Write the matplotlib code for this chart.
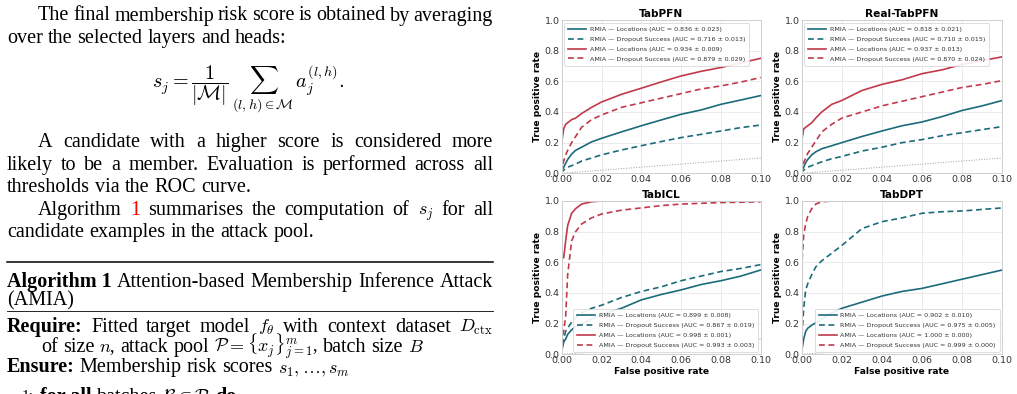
import matplotlib
matplotlib.use("Agg")
import matplotlib.pyplot as plt
from matplotlib.lines import Line2D

# ---------------------------------------------------------------------------
# ROC data (FPR range 0 - 0.1)
# ---------------------------------------------------------------------------
FPR = [0, 0, 0.001, 0.002, 0.003, 0.005, 0.007, 0.01, 0.015, 0.02,
       0.03, 0.04, 0.05, 0.06, 0.07, 0.08, 0.09, 0.1]

panels = ["TabPFN", "Real-TabPFN", "TabICL", "TabDPT"]

tabpfn_rmia_loc = [0, 0.02, 0.04, 0.065, 0.09, 0.125, 0.15, 0.17, 0.205, 0.228,
                   0.27, 0.31, 0.348, 0.385, 0.413, 0.45, 0.478, 0.507]
tabpfn_rmia_drop = [0, 0.01, 0.02, 0.033, 0.04, 0.05, 0.06, 0.08, 0.1, 0.12,
                    0.152, 0.18, 0.207, 0.233, 0.254, 0.276, 0.298, 0.315]
tabpfn_amia_loc = [0, 0.2, 0.29, 0.32, 0.33, 0.35, 0.36, 0.39, 0.43, 0.465,
                   0.515, 0.555, 0.596, 0.635, 0.665, 0.69, 0.72, 0.75]
tabpfn_amia_drop = [0, 0.03, 0.08, 0.12, 0.15, 0.2, 0.24, 0.3, 0.35, 0.38,
                    0.43, 0.46, 0.49, 0.52, 0.55, 0.57, 0.595, 0.625]

real_rmia_loc = [0, 0.02, 0.04, 0.07, 0.09, 0.12, 0.14, 0.16, 0.18, 0.2,
                 0.24, 0.276, 0.31, 0.335, 0.37, 0.41, 0.44, 0.475]
real_rmia_drop = [0, 0.01, 0.02, 0.03, 0.04, 0.05, 0.06, 0.075, 0.095, 0.11,
                  0.145, 0.17, 0.2, 0.22, 0.245, 0.265, 0.285, 0.305]
real_amia_loc = [0, 0.21, 0.29, 0.3, 0.31, 0.33, 0.36, 0.40, 0.45, 0.475,
                 0.54, 0.58, 0.61, 0.65, 0.675, 0.71, 0.735, 0.76]
real_amia_drop = [0, 0.03, 0.07, 0.1, 0.13, 0.17, 0.21, 0.27, 0.32, 0.36,
                  0.4, 0.44, 0.47, 0.5, 0.53, 0.56, 0.58, 0.605]

tabicl_rmia_loc = [0, 0.02, 0.08, 0.1, 0.13, 0.16, 0.18, 0.2, 0.23, 0.26,
                   0.3, 0.355, 0.39, 0.42, 0.455, 0.48, 0.51, 0.55]
tabicl_rmia_drop = [0, 0.05, 0.1, 0.15, 0.17, 0.21, 0.24, 0.27, 0.3, 0.32,
                    0.37, 0.41, 0.44, 0.48, 0.51, 0.54, 0.56, 0.585]
tabicl_amia_loc = [0, 0.63, 0.63, 0.74, 0.84, 0.92, 0.95, 0.98, 0.995, 1.0,
                   1.0, 1.0, 1.0, 1.0, 1.0, 1.0, 1.0, 1.0]
tabicl_amia_drop = [0, 0.1, 0.15, 0.25, 0.52, 0.74, 0.8, 0.85, 0.89, 0.915,
                    0.94, 0.955, 0.97, 0.98, 0.985, 0.99, 0.992, 0.995]

tabdpt_rmia_loc = [0, 0.02, 0.1, 0.15, 0.17, 0.19, 0.205, 0.23, 0.27, 0.3,
                   0.34, 0.38, 0.41, 0.43, 0.46, 0.49, 0.52, 0.55]
tabdpt_rmia_drop = [0, 0.1, 0.3, 0.42, 0.46, 0.52, 0.57, 0.61, 0.66, 0.71,
                    0.82, 0.865, 0.89, 0.92, 0.93, 0.935, 0.945, 0.955]
tabdpt_amia_loc = [0, 1.0, 1.0, 1.0, 1.0, 1.0, 1.0, 1.0, 1.0, 1.0,
                   1.0, 1.0, 1.0, 1.0, 1.0, 1.0, 1.0, 1.0]
tabdpt_amia_drop = [0, 0.57, 0.78, 0.85, 0.9, 0.95, 0.98, 0.995, 1.0, 1.0,
                    1.0, 1.0, 1.0, 1.0, 1.0, 1.0, 1.0, 1.0]

auc_tabpfn = ["0.836 ± 0.023", "0.716 ± 0.013", "0.934 ± 0.009", "0.879 ± 0.029"]
auc_real = ["0.818 ± 0.021", "0.710 ± 0.015", "0.937 ± 0.013", "0.870 ± 0.024"]
auc_tabicl = ["0.899 ± 0.008", "0.867 ± 0.019", "0.998 ± 0.001", "0.993 ± 0.003"]
auc_tabdpt = ["0.902 ± 0.010", "0.975 ± 0.005", "1.000 ± 0.000", "0.999 ± 0.000"]

series_names = ["RMIA — Locations", "RMIA — Dropout Success",
                "AMIA — Locations", "AMIA — Dropout Success"]

TEAL = "#1b6b7b"
RED = "#c1394b"

plt.rcParams["mathtext.fontset"] = "cm"
plt.rcParams["font.family"] = ["DejaVu Sans"]

W, H = 1017, 394
fig = plt.figure(figsize=(W / 100, H / 100), dpi=100)
renderer = fig.canvas.get_renderer()


# ---------------------------------------------------------------------------
# Left column: paper text
# ---------------------------------------------------------------------------
TXT = 14.5
SERIF = "Liberation Serif"


def put_line(words, yb, x0, x1=None, size=TXT):
    """Place words on a baseline (pixel coords), justified if x1 is given."""
    arts = []
    for w in words:
        if isinstance(w, str):
            w = (w, "normal", "black")
        txt, wt, col = w
        sz = size * 0.9 if txt.startswith("$") else size
        arts.append(fig.text(0, 1 - yb / H, txt, fontsize=sz, family=SERIF,
                             weight=wt, color=col, va="baseline", ha="left"))
    widths = [a.get_window_extent(renderer).width for a in arts]
    if x1 is not None and len(arts) > 1:
        gap = (x1 - x0 - sum(widths)) / (len(arts) - 1)
    else:
        gap = size * 100 / 72 * 0.25
    x = x0
    for a, wd in zip(arts, widths):
        a.set_x(x / W)
        x += wd + gap


LEFT, RIGHT, INDENT = 7, 493, 38

put_line("The final membership risk score is obtained by averaging".split(),
         20.5, INDENT, RIGHT)
put_line("over the selected layers and heads:".split(), 43, LEFT)
fig.text(248 / W, 1 - 87 / H,
         r"$s_j = \dfrac{1}{|\mathcal{M}|}\,\sum_{(l,h)\in\mathcal{M}}\,a_j^{(l,h)}.$",
         fontsize=14.5, ha="center", va="baseline")
put_line("A candidate with a higher score is considered more".split(),
         147, INDENT, RIGHT)
put_line("likely to be a member. Evaluation is performed across all".split(),
         170, LEFT, RIGHT)
put_line("thresholds via the ROC curve.".split(), 192, LEFT)
put_line(["Algorithm", ("1", "normal", "red"), "summarises", "the",
          "computation", "of", r"$s_j$", "for", "all"], 215, INDENT, RIGHT)
put_line("candidate examples in the attack pool.".split(), 237, LEFT)

fig.add_artist(Line2D([LEFT / W, RIGHT / W], [1 - 262 / H] * 2,
                      color="black", lw=1.1))
put_line([("Algorithm 1", "bold", "black"), "Attention-based", "Membership",
          "Inference", "Attack"], 287, LEFT, RIGHT)
put_line(["(AMIA)"], 305, LEFT)
fig.add_artist(Line2D([LEFT / W, RIGHT / W], [1 - 311 / H] * 2,
                      color="black", lw=0.6))
put_line([("Require:", "bold", "black"), "Fitted", "target", "model",
          r"$f_\theta$", "with", "context", "dataset", r"$D_{\rm ctx}$"],
         332, LEFT, RIGHT)
put_line(["of", "size", r"$n$,", "attack", "pool",
          r"$\mathcal{P} = \{x_j\}_{j=1}^m$,", "batch", "size", r"$B$"],
         352, 41)
put_line([("Ensure:", "bold", "black"), "Membership", "risk", "scores",
          r"$s_1,\ldots,s_m$"], 372, LEFT)
put_line([("1:", "normal", "black")], 400, 22, size=11)
put_line([("for all", "bold", "black"), "batches",
          r"$\mathcal{B}\subset\mathcal{P}$", ("do", "bold", "black")], 402, 40)


# ---------------------------------------------------------------------------
# Right column: 2x2 ROC panels
# ---------------------------------------------------------------------------
curves = [
    (tabpfn_rmia_loc, tabpfn_rmia_drop, tabpfn_amia_loc, tabpfn_amia_drop),
    (real_rmia_loc, real_rmia_drop, real_amia_loc, real_amia_drop),
    (tabicl_rmia_loc, tabicl_rmia_drop, tabicl_amia_loc, tabicl_amia_drop),
    (tabdpt_rmia_loc, tabdpt_rmia_drop, tabdpt_amia_loc, tabdpt_amia_drop),
]
aucs = [auc_tabpfn, auc_real, auc_tabicl, auc_tabdpt]
styles = [(TEAL, "-"), (TEAL, "--"), (RED, "-"), (RED, "--")]

col_x = [561.7, 801.7]
col_w = [199.0, 200.6]
row_top = [20.0, 201.0]
ax_h = 153.3

for i, name in enumerate(panels):
    r, c = divmod(i, 2)
    ax = fig.add_axes([col_x[c] / W, 1 - (row_top[r] + ax_h) / H,
                       col_w[c] / W, ax_h / H])
    ax.set_facecolor("white")
    ax.grid(True, color="#e8e8e8", lw=0.6)
    ax.set_axisbelow(True)
    for sp in ax.spines.values():
        sp.set_color("#cfcfcf")
        sp.set_linewidth(0.7)

    for tpr, (color, ls), label, auc in zip(curves[i], styles, series_names, aucs[i]):
        ax.plot(FPR, tpr, color=color, ls=ls, lw=1.2,
                dashes=(3.5, 2.2) if ls == "--" else (None, None),
                label=f"{label} (AUC = {auc})")
    ax.plot([0, 0.1], [0, 0.1], ls=":", color="#9a9a9a", lw=0.7)

    ax.set_xlim(0, 0.1)
    ax.set_ylim(0, 1.0)
    ax.set_xticks([0, 0.02, 0.04, 0.06, 0.08, 0.1])
    ax.set_yticks([0, 0.2, 0.4, 0.6, 0.8, 1.0])
    ax.set_xticklabels(["0.00", "0.02", "0.04", "0.06", "0.08", "0.10"])
    ax.tick_params(labelsize=6.8, length=0, pad=1.5, colors="#333333")
    ax.set_title(name, fontsize=7.6, fontweight="bold", pad=2.5)
    ax.set_ylabel("True positive rate", fontsize=6.6, fontweight="bold", labelpad=2)
    if r == 1:
        ax.set_xlabel("False positive rate", fontsize=6.6, fontweight="bold", labelpad=1)

    leg = ax.legend(loc="upper left" if r == 0 else "lower right",
                    fontsize=4.6, handlelength=2.8, handletextpad=0.6,
                    labelspacing=0.7, borderpad=0.6, borderaxespad=0.4,
                    framealpha=0.9, edgecolor="#cccccc", fancybox=True)
    leg.get_frame().set_linewidth(0.5)
    for t in leg.get_texts():
        t.set_color("#333333")

fig.savefig("out.png", dpi=100)
